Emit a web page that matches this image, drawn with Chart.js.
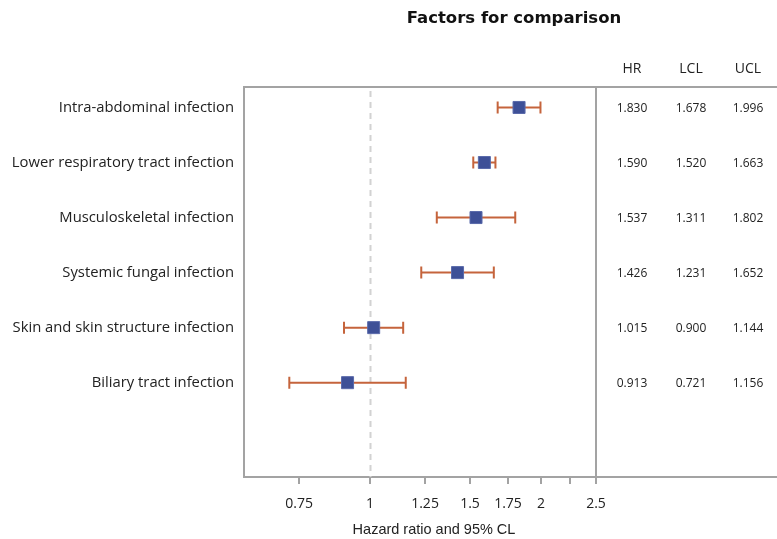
<!DOCTYPE html>
<html>
<head>
<meta charset="utf-8">
<script src="https://cdn.jsdelivr.net/npm/chart.js@4/dist/chart.umd.min.js"></script>
<style>
  html, body { margin: 0; padding: 0; background: #ffffff; }
  #wrap { width: 777px; height: 539px; position: relative; }
</style>
</head>
<body>
<div id="wrap"><canvas id="c" width="777" height="539"></canvas></div>
<script>
const title = 'Factors for comparison';
const xTitle = 'Hazard ratio and 95% CL';
const categories = [
  'Intra-abdominal infection',
  'Lower respiratory tract infection',
  'Musculoskeletal infection',
  'Systemic fungal infection',
  'Skin and skin structure infection',
  'Biliary tract infection'
];
const hr  = [1.830, 1.590, 1.537, 1.426, 1.015, 0.913];
const lcl = [1.678, 1.520, 1.311, 1.231, 0.900, 0.721];
const ucl = [1.996, 1.663, 1.802, 1.652, 1.144, 1.156];
const tableHeaders = ['HR', 'LCL', 'UCL'];
const tickValues = [0.75, 1, 1.25, 1.5, 1.75, 2, 2.25, 2.5];
const tickLabels = ['0.75', '1', '1.25', '1.5', '1.75', '2', '', '2.5'];
const refValue = 1;

const FONT = '"Open Sans", "DejaVu Sans", sans-serif';
const LINE = '#a3a3a3';
const ERR = '#c5643c';
const MARK = '#3e5097';

const fmt = v => v.toFixed(3);

const forestPlugin = {
  id: 'forest',
  beforeDatasetsDraw(chart) {
    const { ctx, chartArea: a, scales: { x, y } } = chart;
    ctx.save();
    const rx = Math.round(x.getPixelForValue(refValue)) + 0.5;
    ctx.strokeStyle = '#d2d2d2';
    ctx.lineWidth = 2;
    ctx.setLineDash([6, 5]);
    ctx.beginPath();
    ctx.moveTo(rx, a.top + 4);
    ctx.lineTo(rx, a.bottom);
    ctx.stroke();
    ctx.setLineDash([]);
    ctx.strokeStyle = ERR;
    ctx.lineWidth = 2;
    for (let i = 0; i < categories.length; i++) {
      const yy = y.getPixelForValue(i + 1);
      const x1 = x.getPixelForValue(lcl[i]);
      const x2 = x.getPixelForValue(ucl[i]);
      ctx.beginPath();
      ctx.moveTo(x1, yy); ctx.lineTo(x2, yy);
      ctx.moveTo(x1, yy - 6); ctx.lineTo(x1, yy + 6);
      ctx.moveTo(x2, yy - 6); ctx.lineTo(x2, yy + 6);
      ctx.stroke();
    }
    ctx.restore();
  },
  afterDraw(chart) {
    const { ctx, chartArea: a, scales: { x, y }, width } = chart;
    ctx.save();
    ctx.strokeStyle = LINE;
    ctx.lineWidth = 2;
    ctx.beginPath();
    ctx.moveTo(a.left, a.top); ctx.lineTo(width, a.top);
    ctx.moveTo(a.right, a.top); ctx.lineTo(a.right, a.bottom);
    ctx.moveTo(a.right, a.bottom); ctx.lineTo(width, a.bottom);
    ctx.stroke();
    ctx.fillStyle = '#111';
    ctx.textAlign = 'center';
    ctx.textBaseline = 'middle';
    ctx.font = 'bold 16.5px "DejaVu Sans", sans-serif';
    ctx.fillText(title, 514, 19);
    ctx.font = '14.5px "Liberation Sans", Arial, sans-serif';
    ctx.fillStyle = '#222';
    ctx.fillText(xTitle, 434, 530);
    const cols = [632, 691, 748];
    ctx.font = '14px ' + FONT;
    tableHeaders.forEach((h, j) => ctx.fillText(h, cols[j], 69));
    ctx.font = '12px ' + FONT;
    for (let i = 0; i < categories.length; i++) {
      const yy = y.getPixelForValue(i + 1);
      ctx.fillText(fmt(hr[i]), cols[0], yy + 1);
      ctx.fillText(fmt(lcl[i]), cols[1], yy + 1);
      ctx.fillText(fmt(ucl[i]), cols[2], yy + 1);
    }
    ctx.restore();
  }
};

new Chart(document.getElementById('c'), {
  type: 'scatter',
  data: {
    datasets: [{
      data: hr.map((v, i) => ({ x: v, y: i + 1 })),
      pointStyle: 'rect',
      pointRadius: 8.5,
      pointHoverRadius: 8.5,
      backgroundColor: MARK,
      borderColor: '#5b6bab',
      borderWidth: 1
    }]
  },
  options: {
    responsive: false,
    animation: false,
    events: [],
    layout: { padding: { top: 87, right: 181, left: 0, bottom: 0 } },
    plugins: { legend: { display: false }, tooltip: { enabled: false }, title: { display: false } },
    scales: {
      x: {
        type: 'logarithmic',
        min: 0.6,
        max: 2.5,
        afterBuildTicks: s => { s.ticks = tickValues.map(v => ({ value: v })); },
        afterFit: s => { s.height = 62; },
        ticks: {
          autoSkip: false,
          maxRotation: 0,
          padding: 12,
          color: '#222',
          font: { size: 14, family: FONT },
          callback: (v, i) => tickLabels[i]
        },
        grid: { display: true, drawOnChartArea: false, drawTicks: true, tickLength: 7, color: LINE, lineWidth: 2 },
        border: { display: true, color: LINE, width: 2 }
      },
      y: {
        type: 'linear',
        reverse: true,
        min: 0.628,
        max: 7.714,
        afterBuildTicks: s => { s.ticks = categories.map((c, i) => ({ value: i + 1 })); },
        afterFit: s => { s.width = 244; },
        ticks: {
          autoSkip: false,
          padding: 10,
          color: '#222',
          font: { size: 14.8, family: FONT },
          callback: (v) => categories[Math.round(v) - 1] || ''
        },
        grid: { display: false, drawTicks: false },
        border: { display: true, color: LINE, width: 2 }
      }
    }
  },
  plugins: [forestPlugin]
});
</script>
</body>
</html>
